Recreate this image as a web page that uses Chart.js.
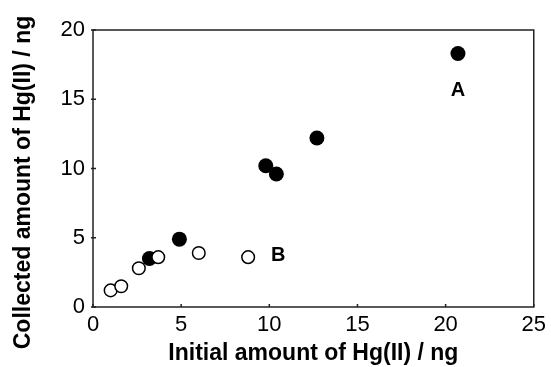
<!DOCTYPE html>
<html lang="en">
<head>
    <meta charset="utf-8" />
    <title>Hg(II) collected vs initial</title>
    <style>
        html, body { margin: 0; padding: 0; background: #fff; }
        #wrap { width: 551px; height: 367px; }
    </style>
</head>
<body>
    <div id="wrap">
        <canvas id="Chart1" width="551" height="367"></canvas>
    </div>

    <script src="https://cdn.jsdelivr.net/npm/chart.js"></script>
    <script>
        // series A (filled) and B (open)
        const seriesA_x = [3.2, 4.9, 9.8, 10.4, 12.7, 20.7];
        const seriesA_y = [3.5, 4.9, 10.2, 9.6, 12.2, 18.3];
        const seriesB_x = [1.0, 1.6, 2.6, 3.7, 6.0, 8.8];
        const seriesB_y = [1.2, 1.5, 2.8, 3.6, 3.9, 3.6];

        const labelText = ['A', 'B'];
        const labelX = [20.7, 10.5];
        const labelY = [15.6, 3.7];

        const xTitle = 'Initial amount of Hg(II) / ng';
        const yTitle = 'Collected amount of Hg(II) / ng';

        const FONT = '"Liberation Sans", Arial, Helvetica, sans-serif';

        function toPoints(xs, ys) {
            return xs.map((v, i) => ({ x: v, y: ys[i] }));
        }

        const framePlugin = {
            id: 'frame',
            beforeDatasetsDraw(chart) {
                const { ctx, chartArea: a, scales: { x, y } } = chart;
                ctx.save();
                ctx.strokeStyle = '#222';
                ctx.lineWidth = 1.5;
                ctx.strokeRect(a.left, a.top, a.right - a.left, a.bottom - a.top);
                ctx.beginPath();
                x.ticks.forEach(t => {
                    const px = x.getPixelForValue(t.value);
                    ctx.moveTo(px, a.bottom);
                    ctx.lineTo(px, a.bottom - 3);
                });
                y.ticks.forEach(t => {
                    const py = y.getPixelForValue(t.value);
                    ctx.moveTo(a.left - 2, py);
                    ctx.lineTo(a.left + 3, py);
                });
                ctx.stroke();
                ctx.restore();
            },
            afterDraw(chart) {
                const { ctx, chartArea: a, scales: { x, y } } = chart;
                ctx.save();
                ctx.fillStyle = '#000';
                ctx.textAlign = 'center';
                ctx.textBaseline = 'middle';
                ctx.font = 'bold 20px ' + FONT;
                labelText.forEach((t, i) => {
                    ctx.fillText(t, x.getPixelForValue(labelX[i]), y.getPixelForValue(labelY[i]));
                });
                // y title, sits a little below the plot centre in the original
                ctx.font = 'bold 23px ' + FONT;
                ctx.translate(24, (a.top + a.bottom) / 2 + 14);
                ctx.rotate(-Math.PI / 2);
                ctx.fillText(yTitle, 0, 0);
                ctx.restore();
            }
        };

        const ctx = document.getElementById('Chart1').getContext('2d');

        const chart1 = new Chart(ctx, {
            type: 'scatter',
            data: {
                datasets: [{
                    label: 'B',
                    data: toPoints(seriesB_x, seriesB_y),
                    pointRadius: 6.3,
                    pointBorderWidth: 1.5,
                    pointBackgroundColor: '#fff',
                    pointBorderColor: '#000'
                }, {
                    label: 'A',
                    data: toPoints(seriesA_x, seriesA_y),
                    pointRadius: 7.5,
                    pointBorderWidth: 0,
                    pointBackgroundColor: '#000',
                    pointBorderColor: '#000'
                }]
            },
            options: {
                responsive: false,
                animation: false,
                events: [],
                layout: {
                    padding: { top: 30, right: 13, left: 0, bottom: 0 }
                },
                plugins: {
                    legend: { display: false },
                    tooltip: { enabled: false }
                },
                scales: {
                    x: {
                        type: 'linear',
                        min: 0,
                        max: 25,
                        grid: { display: false, drawTicks: false },
                        border: { display: false },
                        ticks: {
                            stepSize: 5,
                            padding: 5,
                            color: '#000',
                            font: { family: FONT, size: 22 }
                        },
                        title: {
                            display: true,
                            text: xTitle,
                            color: '#000',
                            padding: 0,
                            font: { family: FONT, size: 23, weight: 'bold', lineHeight: 1.2 }
                        },
                        afterFit(scale) { scale.height = 60; }
                    },
                    y: {
                        type: 'linear',
                        min: 0,
                        max: 20,
                        grid: { display: false, drawTicks: false },
                        border: { display: false },
                        ticks: {
                            stepSize: 5,
                            padding: 8,
                            color: '#000',
                            font: { family: FONT, size: 22 }
                        },
                        afterFit(scale) { scale.width = 93; }
                    }
                }
            },
            plugins: [framePlugin]
        });
    </script>
</body>
</html>
